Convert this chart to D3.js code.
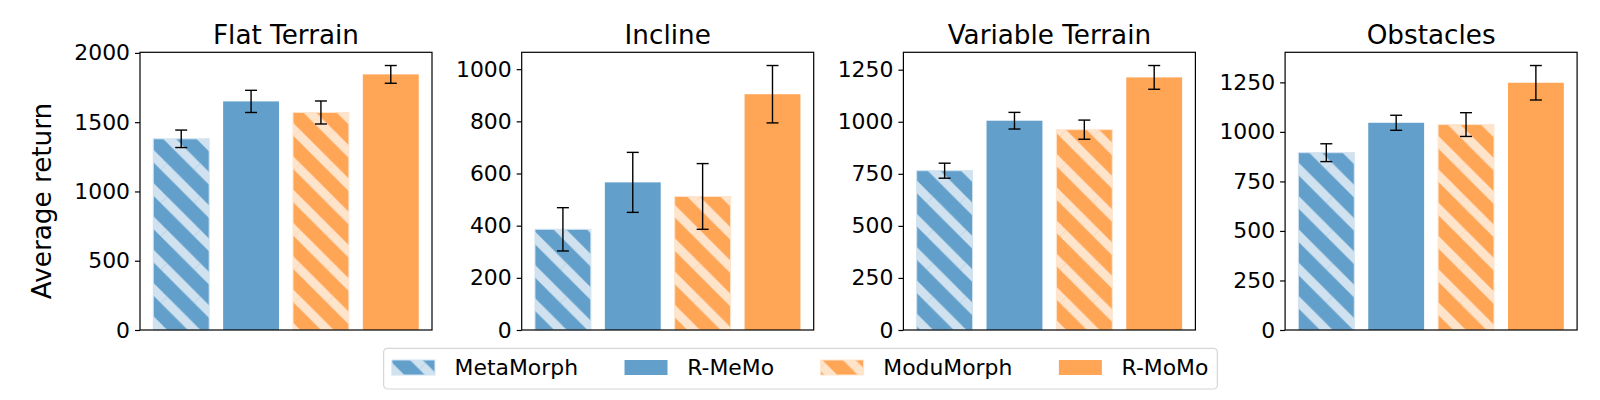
<!DOCTYPE html>
<html>
<head>
<meta charset="utf-8">
<script src="https://cdn.jsdelivr.net/npm/d3@7"></script>
<style>
  body { margin: 0; background: #fff; }
  text { font-family: "DejaVu Sans", sans-serif; fill: #000; }
</style>
</head>
<body>
<svg id="chart"></svg>
<script>
(function () {
    const W = 1600;
    const H = 400;

    // data
    const panels = ["Flat Terrain", "Incline", "Variable Terrain", "Obstacles"];
    const methods = ["MetaMorph", "R-MeMo", "ModuMorph", "R-MoMo"];
    const hatched = [true, false, true, false];
    const baseColors = ["#62a0cb", "#62a0cb", "#ffa556", "#ffa556"];
    const hatchColors = ["#d0e2ef", "#d0e2ef", "#ffe4cc", "#ffe4cc"];

    const means = [
        [1380, 1650, 1570, 1845],
        [386, 566, 512, 904],
        [765, 1005, 962, 1213],
        [895, 1046, 1037, 1248]
    ];
    const errs = [
        [63, 80, 83, 64],
        [83, 115, 126, 110],
        [36, 40, 46, 57],
        [45, 38, 60, 87]
    ];
    const yTicks = [
        [0, 500, 1000, 1500, 2000],
        [0, 200, 400, 600, 800, 1000],
        [0, 250, 500, 750, 1000, 1250],
        [0, 250, 500, 750, 1000, 1250]
    ];

    const plotLeft = 140;
    const panelStep = 381.7;
    const plotW = 292;
    const top = 52.3;
    const bottom = 330;

    const svg = d3.select("#chart")
        .attr("width", W)
        .attr("height", H);

    // hatch patterns ("\" stripes)
    const defs = svg.append("defs");
    const P = 33.3;
    methods.forEach((m, i) => {
        if (!hatched[i]) return;
        const pat = defs.append("pattern")
            .attr("id", "hatch" + i)
            .attr("patternUnits", "userSpaceOnUse")
            .attr("width", P)
            .attr("height", P)
            .attr("patternTransform", "translate(30.7,0)");
        pat.append("rect")
            .attr("width", P).attr("height", P)
            .attr("fill", baseColors[i]);
        [[-P, 0], [0, 0], [P, 0], [0, -P], [0, P]].forEach(([dx, dy]) => {
            pat.append("line")
                .attr("x1", dx).attr("y1", dy)
                .attr("x2", dx + P).attr("y2", dy + P)
                .attr("stroke", hatchColors[i])
                .attr("stroke-width", 9);
        });
    });

    const fillFor = i => hatched[i] ? `url(#hatch${i})` : baseColors[i];

    panels.forEach((name, p) => {
        const left = plotLeft + p * panelStep;
        const g = svg.append("g");

        const x = d3.scaleLinear()
            .domain([-0.59, 3.59])
            .range([left, left + plotW]);

        const yMax = d3.max(means[p], (d, i) => d + errs[p][i]) * 1.05;
        const y = d3.scaleLinear()
            .domain([0, yMax])
            .range([bottom, top]);

        // bars
        g.selectAll("rect.bar")
            .data(means[p])
            .enter().append("rect")
            .attr("class", "bar")
            .attr("x", (d, i) => x(i - 0.4))
            .attr("width", (d, i) => x(i + 0.4) - x(i - 0.4))
            .attr("y", d => y(d))
            .attr("height", d => y(0) - y(d))
            .attr("fill", (d, i) => fillFor(i))
            .attr("stroke", (d, i) => hatched[i] ? hatchColors[i] : "none")
            .attr("stroke-width", 1);

        // error bars
        const eb = g.selectAll("g.err")
            .data(means[p])
            .enter().append("g")
            .attr("stroke", "#000")
            .attr("stroke-width", 1.4);
        eb.append("line")
            .attr("x1", (d, i) => x(i)).attr("x2", (d, i) => x(i))
            .attr("y1", (d, i) => y(d - errs[p][i]))
            .attr("y2", (d, i) => y(d + errs[p][i]));
        eb.append("line")
            .attr("x1", (d, i) => x(i) - 6).attr("x2", (d, i) => x(i) + 6)
            .attr("y1", (d, i) => y(d + errs[p][i]))
            .attr("y2", (d, i) => y(d + errs[p][i]));
        eb.append("line")
            .attr("x1", (d, i) => x(i) - 6).attr("x2", (d, i) => x(i) + 6)
            .attr("y1", (d, i) => y(d - errs[p][i]))
            .attr("y2", (d, i) => y(d - errs[p][i]));

        // y axis
        const ax = g.append("g")
            .attr("transform", `translate(${left},0)`)
            .call(d3.axisLeft(y)
                .tickValues(yTicks[p])
                .tickFormat(d3.format("d"))
                .tickSize(5).tickPadding(5).tickSizeOuter(0));
        ax.select(".domain").remove();
        ax.selectAll(".tick line").attr("stroke", "#000").attr("stroke-width", 1.2);
        ax.selectAll(".tick text")
            .style("font-family", "DejaVu Sans")
            .style("font-size", "21.9px")
            .attr("fill", "#000");

        // frame
        g.append("rect")
            .attr("x", left).attr("y", top)
            .attr("width", plotW).attr("height", bottom - top)
            .attr("fill", "none")
            .attr("stroke", "#000")
            .attr("stroke-width", 1.2);

        // title
        g.append("text")
            .attr("x", left + plotW / 2)
            .attr("y", 44)
            .attr("text-anchor", "middle")
            .style("font-size", "26.25px")
            .text(name);
    });

    // shared y label
    svg.append("text")
        .attr("transform", "translate(51,201) rotate(-90)")
        .attr("text-anchor", "middle")
        .style("font-size", "26.25px")
        .text("Average return");

    // legend
    const leg = svg.append("g");
    const box = leg.append("rect");
    const patchW = 43, patchH = 15, textOff = 62.7, colGap = 46.5;
    const rowY = 367.5;
    let cx = 0;
    methods.forEach((m, i) => {
        leg.append("rect")
            .attr("x", cx).attr("y", rowY - patchH / 2)
            .attr("width", patchW).attr("height", patchH)
            .attr("fill", fillFor(i))
            .attr("stroke", hatched[i] ? hatchColors[i] : "none")
            .attr("stroke-width", 1);
        const t = leg.append("text")
            .attr("x", cx + textOff)
            .attr("y", rowY)
            .attr("dy", "0.36em")
            .style("font-size", "21.9px")
            .text(m);
        const len = t.node().getComputedTextLength();
        cx = cx + textOff + len + (i < methods.length - 1 ? colGap : 0);
    });
    const legW = cx + 8.3 + 9;
    const legX = 800.5 - legW / 2;
    box.attr("x", -8.3).attr("y", 348.3)
        .attr("width", legW).attr("height", 40.7)
        .attr("rx", 4)
        .attr("fill", "#fff")
        .attr("stroke", "#d6d6d6")
        .attr("stroke-width", 1.2);
    leg.attr("transform", `translate(${legX + 8.3},0)`);
})();
</script>
</body>
</html>
